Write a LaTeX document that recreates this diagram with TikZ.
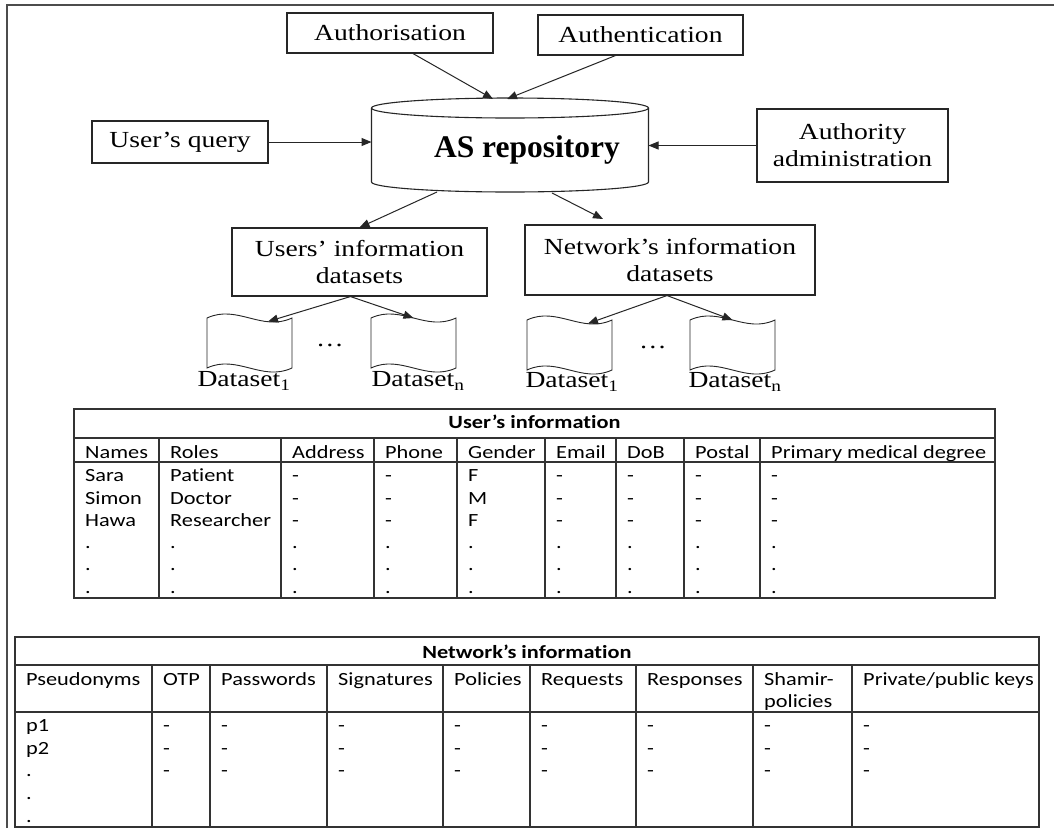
\documentclass[tikz,border=0pt]{standalone}
\usepackage{fontspec}
\setmainfont{Liberation Serif}[FakeStretch=1.2]
\newfontfamily\plainserif{Liberation Serif}
\newfontfamily\tabfont{Carlito}[FakeStretch=1.2, Ligatures=NoCommon]
\usetikzlibrary{arrows.meta,calc}

\tikzset{
  pics/doc/.style={code={
    \draw[fill=white, line width=0.9pt, draw=black!85]
      (0,0) .. controls (30,-14) and (55,14) .. (85,0) -- (85,50)
      .. controls (55,64) and (30,36) .. (0,50) -- cycle;
    \coordinate (-a) at (61,3.5);
    \coordinate (-b) at (42.5,0);
  }}
}

\begin{document}
\begin{tikzpicture}[x=1pt,y=-1pt,
  box/.style={draw=black!85, line width=1.1pt, inner sep=0pt, align=center,
    font=\fontsize{23}{27}\selectfont},
  arr/.style={-{Triangle[length=10pt,width=8pt]}, line width=1pt, draw=black!85},
  frameline/.style={draw=black!70, line width=1.6pt},
  grid/.style={draw=black!80, line width=1.4pt},
  cell/.style={anchor=base west, inner sep=0pt, font=\tabfont\fontsize{18.6}{22}\selectfont},
  ttl/.style={anchor=base, inner sep=0pt, font=\tabfont\bfseries\fontsize{18.6}{22}\selectfont},
  lbl/.style={inner sep=0pt, font=\fontsize{23}{26}\selectfont},
]
\useasboundingbox (0,0) rectangle (1054,828);
\fill[white] (0,0) rectangle (1054,828);
\draw[frameline] (7,828) -- (7,5) -- (1054,5);

% boxes around the repository
\node[box, minimum width=206, minimum height=40] (authz) at (390,33) {Authorisation};
\node[box, minimum width=205, minimum height=40] (authn) at (640.5,35) {Authentication};
\node[box, minimum width=176, minimum height=42] (uq) at (180,142) {User’s query};
\node[box, minimum width=191, minimum height=73] (adm) at (852.5,145.5) {Authority\\administration};

% repository cylinder
\fill[white] (371.5,108) -- (371.5,182) arc[start angle=180,end angle=0,x radius=138.5,y radius=10] -- (648.5,108) -- cycle;
\draw[line width=1.1pt, draw=black!85] (371.5,108) -- (371.5,182)
  arc[start angle=180,end angle=0,x radius=138.5,y radius=10] -- (648.5,108);
\draw[line width=1.1pt, draw=black!85, fill=white] (510,108) ellipse[x radius=138.5, y radius=10];
\node[font=\plainserif\bfseries\fontsize{31.5}{34}\selectfont, inner sep=0pt,
  minimum width=277, minimum height=84] (repo) at (527,150) {AS repository};
\coordinate (cylA) at (493,99);
\coordinate (cylB) at (507,99);
\coordinate (cylC) at (437,192);
\coordinate (cylD) at (552,193);
\coordinate (ntip) at (603,219);

\draw[arr] ($(authz.south)+(23,0)$) -- (cylA);
\draw[arr] ($(authn.south)+(-25,0)$) -- (cylB);
\draw[arr] (uq.east) -- (371.5,142);
\draw[arr] (adm.west) -- (648.5,145.5);

% dataset groups
\node[box, minimum width=255, minimum height=68] (ubox) at (359.5,262) {Users’ information\\datasets};
\node[box, minimum width=290, minimum height=70] (nbox) at (670,260) {Network’s information\\datasets};
\draw[arr] (cylC) -- (ubox.north);
\draw[arr] (cylD) -- (ntip);

\pic (ud1) at (207,318) {doc};
\pic (udn) at (371,318) {doc};
\pic (nd1) at (527,320) {doc};
\pic (ndn) at (690,320) {doc};

\draw[arr] ($(ubox.south)+(-9,0)$) -- (ud1-a);
\draw[arr] ($(ubox.south)+(-9,0)$) -- (udn-b);
\draw[arr] ($(nbox.south)+(-3,0)$) -- (nd1-a);
\draw[arr] ($(nbox.south)+(-3,0)$) -- (ndn-b);

\node[lbl] (udots) at (330,345) {\dots};
\node[lbl] (ndots) at (653,347) {\dots};
\node[lbl] (ul1) at (244,381) {Dataset\textsubscript{1}};
\node[lbl] (uln) at (418,381) {Dataset\textsubscript{n}};
\node[lbl] (nl1) at (572,382) {Dataset\textsubscript{1}};
\node[lbl] (nln) at (735,382) {Dataset\textsubscript{n}};

% user's information table
\draw[grid] (74,409) rectangle (995,598);
\draw[grid] (74,438) -- (995,438) (74,462) -- (995,462);
\foreach \x in {159,281,374,457,545,616,684,760} \draw[grid] (\x,438) -- (\x,598);
\node[ttl] (utitle) at (534.5,428) {User’s information};
\foreach \x/\h/\a/\b/\c [count=\k] in {74/Names/Sara/Simon/Hawa, 159/Roles/Patient/Doctor/Researcher,
    281/Address/-/-/-, 374/Phone/-/-/-, 457/Gender/F/M/F, 545/Email/-/-/-, 616/DoB/-/-/-,
    684/Postal/-/-/-, 760/Primary medical degree/-/-/-}{
  \node[cell] (uh\k) at (\x+11,458) {\h};
  \node[cell] (ua\k) at (\x+11,481) {\a};
  \node[cell] (ub\k) at (\x+11,504) {\b};
  \node[cell] (uc\k) at (\x+11,526) {\c};
  \foreach \yy [count=\j] in {548,570,593} \node[cell] (ue\k-\j) at (\x+11,\yy) {.};
}

% network's information table
\draw[grid] (15,637) rectangle (1039,827);
\draw[grid] (15,665) -- (1039,665) (15,712) -- (1039,712);
\foreach \x in {152,210,327,443,530,636,753,852} \draw[grid] (\x,665) -- (\x,827);
\node[ttl] (ntitle) at (527,658) {Network’s information};
\foreach \x/\h/\a/\b/\c [count=\k] in {15/Pseudonyms/p1/p2/., 152/OTP/-/-/-, 210/Passwords/-/-/-,
    327/Signatures/-/-/-, 443/Policies/-/-/-, 530/Requests/-/-/-, 636/Responses/-/-/-,
    753/{\begin{tabular}[t]{@{}l@{}}Shamir-\\policies\end{tabular}}/-/-/-,
    852/{Private/public keys}/-/-/-}{
  \node[cell] (nh\k) at (\x+11,685) {\h};
  \node[cell] (na\k) at (\x+11,731) {\a};
  \node[cell] (nb\k) at (\x+11,754) {\b};
  \node[cell] (nc\k) at (\x+11,776) {\c};
}
\node[cell] (ne1) at (26,799) {.};
\node[cell] (ne2) at (26,822) {.};
\end{tikzpicture}
\end{document}
